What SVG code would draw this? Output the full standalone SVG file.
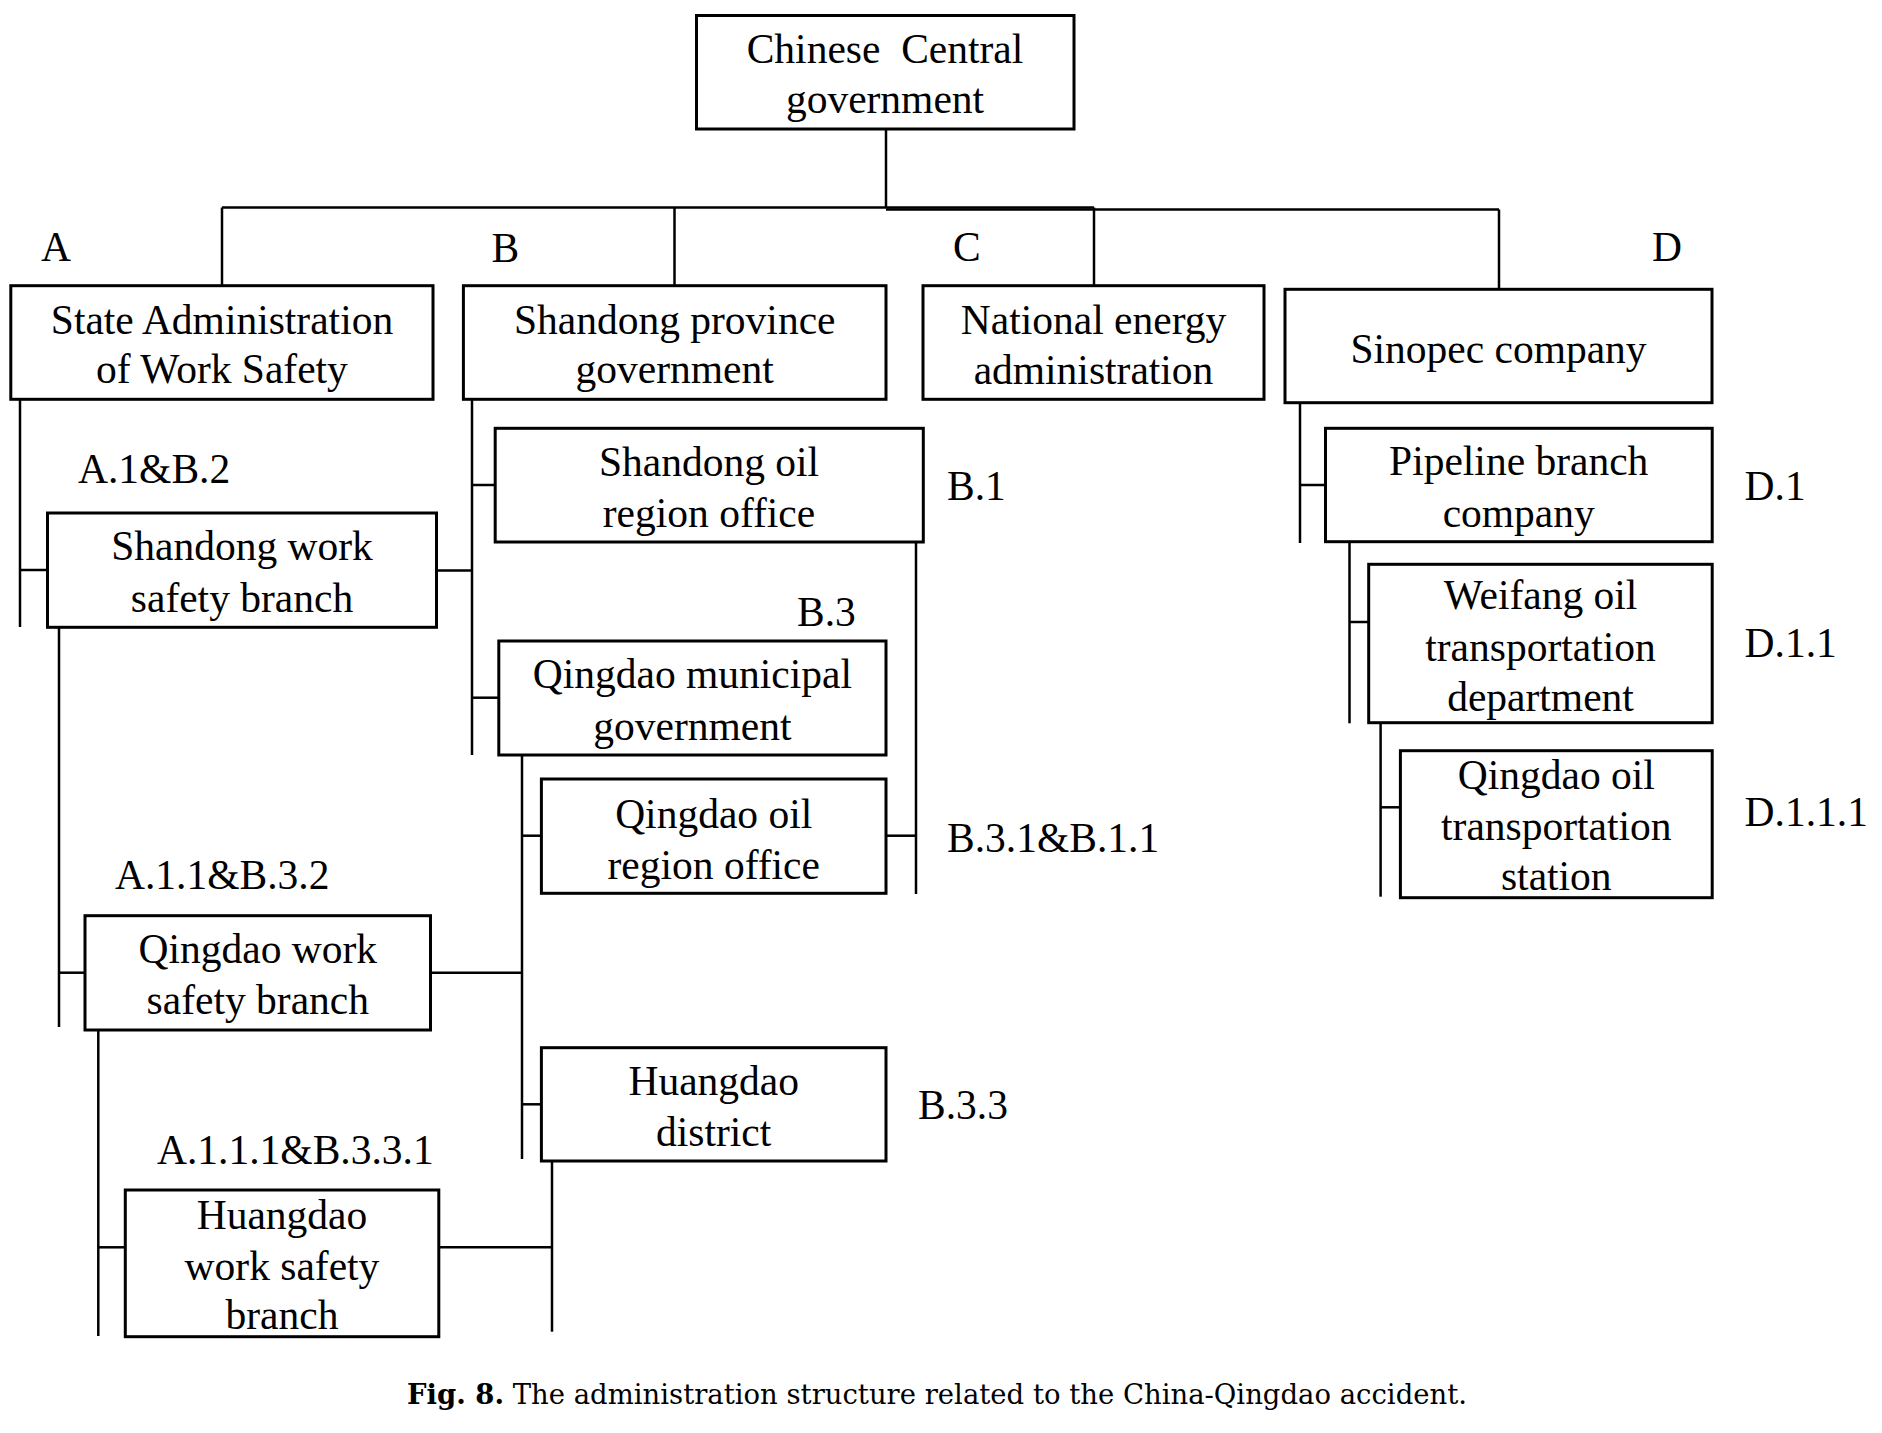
<svg xmlns="http://www.w3.org/2000/svg" width="1882" height="1433" viewBox="0 0 1882 1433">
<style>
.box{fill:#fff;stroke:#000;stroke-width:3}
.t{font-family:"Liberation Serif","Times New Roman",serif;font-size:41.5px;fill:#000;text-anchor:middle}
.lb{font-family:"Liberation Serif","Times New Roman",serif;font-size:41.5px;fill:#000}
.c line{stroke:#000;stroke-width:2.5}
.cap{font-family:"DejaVu Serif",serif;font-size:27px;fill:#000}
</style>
<rect width="1882" height="1433" fill="#fff"/>
<g class="c" id="connectors">
<line x1="886" y1="129" x2="886" y2="208"/>
<line x1="222" y1="207.5" x2="1094" y2="207.5"/>
<line x1="886" y1="209.5" x2="1499" y2="209.5"/>
<line x1="222" y1="207.5" x2="222" y2="286"/>
<line x1="674.5" y1="207.5" x2="674.5" y2="286"/>
<line x1="1094" y1="207.5" x2="1094" y2="286"/>
<line x1="1499" y1="209.5" x2="1499" y2="289"/>
<line x1="20" y1="399" x2="20" y2="627"/>
<line x1="20" y1="570" x2="47.5" y2="570"/>
<line x1="436.5" y1="570.5" x2="472" y2="570.5"/>
<line x1="472" y1="399" x2="472" y2="755"/>
<line x1="472" y1="485" x2="495" y2="485"/>
<line x1="472" y1="697.7" x2="499" y2="697.7"/>
<line x1="916" y1="542" x2="916" y2="894"/>
<line x1="886" y1="835.7" x2="916" y2="835.7"/>
<line x1="522" y1="755" x2="522" y2="1159"/>
<line x1="522" y1="835.7" x2="541.4" y2="835.7"/>
<line x1="522" y1="1104.3" x2="541.4" y2="1104.3"/>
<line x1="430.5" y1="972.7" x2="522" y2="972.7"/>
<line x1="59" y1="627" x2="59" y2="1027"/>
<line x1="59" y1="972.7" x2="85" y2="972.7"/>
<line x1="98.3" y1="1030" x2="98.3" y2="1336"/>
<line x1="98.3" y1="1247.3" x2="125.3" y2="1247.3"/>
<line x1="438.8" y1="1247.3" x2="552" y2="1247.3"/>
<line x1="552" y1="1161" x2="552" y2="1331.7"/>
<line x1="1300" y1="402.7" x2="1300" y2="543"/>
<line x1="1300" y1="485" x2="1325.5" y2="485"/>
<line x1="1349.5" y1="541.7" x2="1349.5" y2="723.3"/>
<line x1="1349.5" y1="622" x2="1368.7" y2="622"/>
<line x1="1380.6" y1="722.7" x2="1380.6" y2="896.7"/>
<line x1="1380.6" y1="807.3" x2="1400.4" y2="807.3"/>
</g>
<g id="n-central"><rect class="box" x="696.5" y="15.5" width="377.5" height="113.5"/><text class="t" x="885" y="63" xml:space="preserve">Chinese  Central</text><text class="t" x="885" y="113">government</text></g>
<g id="n-sawsa"><rect class="box" x="10.8" y="285.7" width="422.2" height="113.6"/><text class="t" x="222" y="334.3">State Administration</text><text class="t" x="222" y="383">of Work Safety</text></g>
<g id="n-shandong-gov"><rect class="box" x="463.4" y="285.7" width="422.6" height="113.6"/><text class="t" x="674.7" y="334.3">Shandong province</text><text class="t" x="674.7" y="383">government</text></g>
<g id="n-nea"><rect class="box" x="923" y="285.7" width="341" height="113.6"/><text class="t" x="1093.5" y="334.3">National energy</text><text class="t" x="1093.5" y="383.5">administration</text></g>
<g id="n-sinopec"><rect class="box" x="1285" y="289.3" width="427" height="113.4"/><text class="t" x="1498.5" y="362.5">Sinopec company</text></g>
<g id="n-swsb"><rect class="box" x="47.5" y="513" width="389" height="114.3"/><text class="t" x="242" y="560.3">Shandong work</text><text class="t" x="242" y="611.8">safety branch</text></g>
<g id="n-soro"><rect class="box" x="495.2" y="428.3" width="428.1" height="113.7"/><text class="t" x="709" y="476">Shandong oil</text><text class="t" x="709" y="526.5">region office</text></g>
<g id="n-qmg"><rect class="box" x="498.8" y="641" width="387.2" height="114"/><text class="t" x="692.4" y="688.3">Qingdao municipal</text><text class="t" x="692.4" y="739.8">government</text></g>
<g id="n-qoro"><rect class="box" x="541.4" y="779" width="344.6" height="114.3"/><text class="t" x="713.7" y="827.5">Qingdao oil</text><text class="t" x="713.7" y="878.5">region office</text></g>
<g id="n-qwsb"><rect class="box" x="85" y="915.7" width="345.5" height="114.3"/><text class="t" x="257.8" y="962.7">Qingdao work</text><text class="t" x="257.8" y="1014.2">safety branch</text></g>
<g id="n-hd"><rect class="box" x="541.4" y="1047.7" width="344.6" height="113.3"/><text class="t" x="713.7" y="1094.5">Huangdao</text><text class="t" x="713.7" y="1145.8">district</text></g>
<g id="n-hwsb"><rect class="box" x="125.3" y="1190" width="313.5" height="146.7"/><text class="t" x="282" y="1229.3">Huangdao</text><text class="t" x="282" y="1280.3">work safety</text><text class="t" x="282" y="1329">branch</text></g>
<g id="n-pbc"><rect class="box" x="1325.5" y="428.3" width="386.7" height="113.4"/><text class="t" x="1518.7" y="475">Pipeline branch</text><text class="t" x="1518.7" y="526.5">company</text></g>
<g id="n-wotd"><rect class="box" x="1368.7" y="564.3" width="343.5" height="158.4"/><text class="t" x="1540.5" y="609.3">Weifang oil</text><text class="t" x="1540.5" y="660.5">transportation</text><text class="t" x="1540.5" y="710.5">department</text></g>
<g id="n-qots"><rect class="box" x="1400.4" y="750.7" width="311.8" height="147"/><text class="t" x="1556.3" y="789.3">Qingdao oil</text><text class="t" x="1556.3" y="840.3">transportation</text><text class="t" x="1556.3" y="890.3">station</text></g>
<g id="labels">
<text class="lb" x="41" y="260.5">A</text>
<text class="lb" x="491.6" y="262.2">B</text>
<text class="lb" x="953" y="260.5">C</text>
<text class="lb" x="1652" y="260.5">D</text>
<text class="lb" x="78" y="482.5">A.1&amp;B.2</text>
<text class="lb" x="947" y="500">B.1</text>
<text class="lb" x="797" y="625.5">B.3</text>
<text class="lb" x="947" y="851.5">B.3.1&amp;B.1.1</text>
<text class="lb" x="115" y="889">A.1.1&amp;B.3.2</text>
<text class="lb" x="918" y="1118.5">B.3.3</text>
<text class="lb" x="157" y="1164">A.1.1.1&amp;B.3.3.1</text>
<text class="lb" x="1744.6" y="500">D.1</text>
<text class="lb" x="1744.6" y="656.5">D.1.1</text>
<text class="lb" x="1744.6" y="825.5">D.1.1.1</text>
</g>
<text class="cap" x="407" y="1404" textLength="1060" lengthAdjust="spacingAndGlyphs"><tspan font-weight="bold">Fig. 8.</tspan>  The administration structure related to the China-Qingdao accident.</text>
</svg>
